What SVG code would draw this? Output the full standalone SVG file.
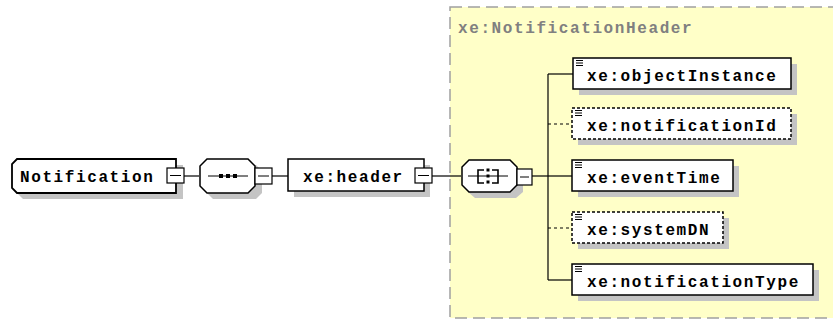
<svg xmlns="http://www.w3.org/2000/svg" width="833" height="322" viewBox="0 0 833 322">
<style>
.sh{fill:#c4c4c4;stroke:none}
.bx{fill:#fff;stroke:#000;stroke-width:1.5}
.opt{fill:#fff;stroke:#000;stroke-width:1.5;stroke-dasharray:3 2}
.mb{fill:#fff;stroke:#000;stroke-width:1.2}
.ln{stroke:#000;stroke-width:1.2;fill:none}
.dl{stroke:#000;stroke-width:1.2;fill:none;stroke-dasharray:3 3}
.t{font-family:"Liberation Mono","DejaVu Sans Mono",monospace;font-weight:bold;font-size:16px;letter-spacing:1.6px;fill:#000}
.ttl{font-family:"Liberation Mono","DejaVu Sans Mono",monospace;font-weight:bold;font-size:16px;letter-spacing:1.6px;fill:#808080}
.ic{stroke:#000;stroke-width:1}
</style>
<rect x="450" y="7" width="420" height="311" fill="#ffffc8" stroke="#a0a0a0" stroke-width="1.5" stroke-dasharray="12 6"/>
<text class="ttl" x="458" y="33">xe:NotificationHeader</text>
<g id="connectors">
<line class="ln" x1="184" y1="176" x2="199" y2="176"/>
<line class="ln" x1="272" y1="176" x2="288" y2="176"/>
<line class="ln" x1="432" y1="176" x2="461" y2="176"/>
<line class="ln" x1="532" y1="176" x2="548" y2="176"/>
<line class="ln" x1="548" y1="74" x2="548" y2="280"/>
<line class="ln" x1="548" y1="74" x2="573" y2="74"/>
<line class="dl" x1="548" y1="124" x2="572" y2="124"/>
<line class="ln" x1="548" y1="176" x2="572" y2="176"/>
<line class="dl" x1="548" y1="228" x2="572" y2="228"/>
<line class="ln" x1="548" y1="280" x2="572" y2="280"/>
</g>
<g id="Notification">
<polygon class="sh" points="23,165 183,165 183,199 23,199 18,194 18,170"/>
<polygon fill="#fff" stroke="#000" stroke-width="1.8" points="17,159 176,159 176,193 17,193 12,188 12,164"/>
<text class="t" x="20" y="182">Notification</text>
<rect class="mb" x="167" y="168" width="17" height="15"/>
<line class="ic" x1="170" y1="175.5" x2="181" y2="175.5"/>
</g>
<g id="sequence">
<polygon class="sh" points="213,165 256,165 262,171 262,193 256,199 213,199 207,193 207,171"/>
<polygon fill="#fff" stroke="#000" stroke-width="1.5" points="207,159 248,159 255,166 255,186 248,193 207,193 200,186 200,166"/>
<line class="ic" x1="208" y1="176" x2="248" y2="176"/>
<rect x="219" y="174" width="4" height="4" fill="#000"/>
<rect x="226" y="174" width="4" height="4" fill="#000"/>
<rect x="233" y="174" width="4" height="4" fill="#000"/>
<rect class="mb" x="255" y="168" width="17" height="16"/>
<line class="ic" x1="258" y1="176" x2="269" y2="176"/>
</g>
<g id="header">
<rect class="sh" x="294" y="165" width="136" height="32"/>
<rect class="bx" x="288" y="159" width="136" height="32"/>
<text class="t" x="303" y="182">xe:header</text>
<rect class="mb" x="415" y="168" width="17" height="15"/>
<line class="ic" x1="418" y1="175.5" x2="429" y2="175.5"/>
</g>
<g id="choice">
<polygon class="sh" points="475,166 516,166 523,173 523,192 516,198 475,198 468,192 468,173"/>
<polygon fill="#fff" stroke="#000" stroke-width="1.5" points="469,160 510,160 517,167 517,185 510,192 469,192 462,185 462,167"/>
<line class="ic" x1="468" y1="176" x2="508" y2="176"/>
<path d="M484,170 H478 V183 H484 M492,170 H498 V183 H492" fill="none" stroke="#000" stroke-width="1.6"/>
<rect x="486.5" y="168.5" width="3" height="3" fill="#000"/>
<rect x="486.5" y="174.5" width="3" height="3" fill="#000"/>
<rect x="486.5" y="180.5" width="3" height="3" fill="#000"/>
<rect class="mb" x="517" y="169" width="15" height="16"/>
<line class="ic" x1="520" y1="177" x2="529" y2="177"/>
</g>
<g id="objectInstance">
<rect class="sh" x="579" y="64" width="218" height="31"/>
<rect class="bx" x="573" y="58" width="218" height="31"/>
<path class="ic" d="M576,60.5 H583 M576,63 H583 M576,65.5 H583"/>
<text class="t" x="587" y="81">xe:objectInstance</text>
</g>
<g id="notificationId">
<rect class="sh" x="578" y="114" width="219" height="31"/>
<rect class="opt" x="572" y="108" width="219" height="31"/>
<path class="ic" d="M575,110.5 H582 M575,113 H582 M575,115.5 H582"/>
<text class="t" x="587" y="131">xe:notificationId</text>
</g>
<g id="eventTime">
<rect class="sh" x="578" y="166" width="161" height="31"/>
<rect class="bx" x="572" y="160" width="161" height="31"/>
<path class="ic" d="M575,162.5 H582 M575,165 H582 M575,167.5 H582"/>
<text class="t" x="587" y="183">xe:eventTime</text>
</g>
<g id="systemDN">
<rect class="sh" x="578" y="218" width="151" height="31"/>
<rect class="opt" x="572" y="212" width="151" height="31"/>
<path class="ic" d="M575,214.5 H582 M575,217 H582 M575,219.5 H582"/>
<text class="t" x="587" y="235">xe:systemDN</text>
</g>
<g id="notificationType">
<rect class="sh" x="578" y="270" width="241" height="31"/>
<rect class="bx" x="572" y="264" width="241" height="31"/>
<path class="ic" d="M575,266.5 H582 M575,269 H582 M575,271.5 H582"/>
<text class="t" x="587" y="287">xe:notificationType</text>
</g>
</svg>
